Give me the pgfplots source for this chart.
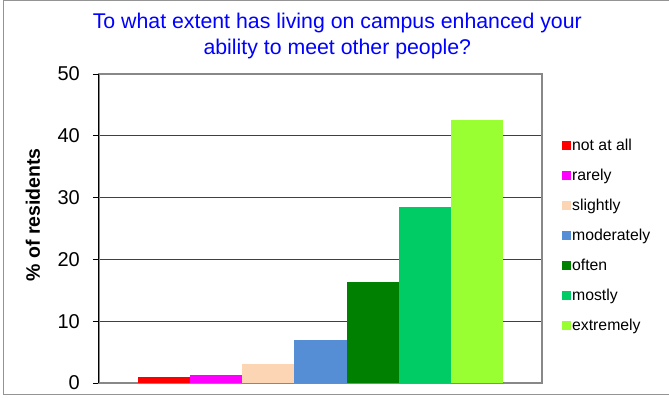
\documentclass[border=0pt]{standalone}
\usepackage{pgfplots}
\pgfplotsset{compat=1.18}
\usepackage{fontspec}
\setmainfont{Liberation Sans}
\definecolor{cNot}{HTML}{FF0000}
\definecolor{cRare}{HTML}{FF00FF}
\definecolor{cSlight}{HTML}{FCD5B4}
\definecolor{cMod}{HTML}{558ED5}
\definecolor{cOften}{HTML}{008000}
\definecolor{cMost}{HTML}{00CC66}
\definecolor{cExt}{HTML}{99FF33}
\definecolor{cTitle}{HTML}{0000FF}
\definecolor{cBox}{HTML}{888888}
\begin{document}
\begin{tikzpicture}
\useasboundingbox (0pt,0pt) rectangle (669pt,398pt);
\draw[color=cBox!90, line width=1pt] (680pt,397pt) -- (3pt,397pt) -- (3pt,3pt) -- (680pt,3pt);
\begin{axis}[
  at={(99pt,15pt)}, anchor=south west,
  scale only axis, width=443pt, height=309pt,
  xmin=-0.248, xmax=8.248,
  ymin=0, ymax=50,
  ytick={0,10,20,30,40,50},
  xtick=\empty,
  ybar, bar width=1, bar shift=0pt,
  axis line style={color=cBox, line width=1.3pt},
  ytick pos=left, tick align=outside,
  major tick length=6pt,
  every tick/.style={black, line width=0.8pt},
  ymajorgrids,
  grid style={black!75, line width=0.9pt},
  /pgf/number format/assume math mode=true,
  yticklabel style={font=\fontsize{20}{24}\selectfont, inner sep=0pt, xshift=-13pt},
  ylabel={\textbf{\% of residents}},
  ylabel style={font=\fontsize{19.5}{23}\selectfont, at={(axis description cs:-0.149,0.544)}, anchor=center, rotate=0},
  title={To what extent has living on campus enhanced your\\ability to meet other people?},
  title style={font=\fontsize{21.3}{25.5}\selectfont, color=cTitle, align=center, at={(axis description cs:0.538,1.177)}, anchor=north, inner sep=0pt},
  legend style={draw=none, fill=none, at={(axis description cs:1.045,0.476)}, anchor=west, inner xsep=0pt, inner ysep=0pt, row sep=12.5pt, font=\fontsize{15.8}{18}\selectfont, nodes={inner sep=1pt, text height=12pt, text depth=3.5pt}},
  legend cell align=left,
  legend image code/.code={\path[#1, draw=none] (0pt,-4.5pt) rectangle (9pt,4.5pt);},
  extra description/.code={\draw[black, line width=1pt] (rel axis cs:0,0) -- (rel axis cs:0,1);},
]
\addplot[fill=cNot, draw=none] coordinates {(1,1.05)};
\addlegendentry{not at all}
\addplot[fill=cRare, draw=none] coordinates {(2,1.37)};
\addlegendentry{rarely}
\addplot[fill=cSlight, draw=none] coordinates {(3,3.14)};
\addlegendentry{slightly}
\addplot[fill=cMod, draw=none] coordinates {(4,7.0)};
\addlegendentry{moderately}
\addplot[fill=cOften, draw=none] coordinates {(5,16.37)};
\addlegendentry{often}
\addplot[fill=cMost, draw=none] coordinates {(6,28.5)};
\addlegendentry{mostly}
\addplot[fill=cExt, draw=none] coordinates {(7,42.5)};
\addlegendentry{extremely}
\end{axis}
\end{tikzpicture}
\end{document}
